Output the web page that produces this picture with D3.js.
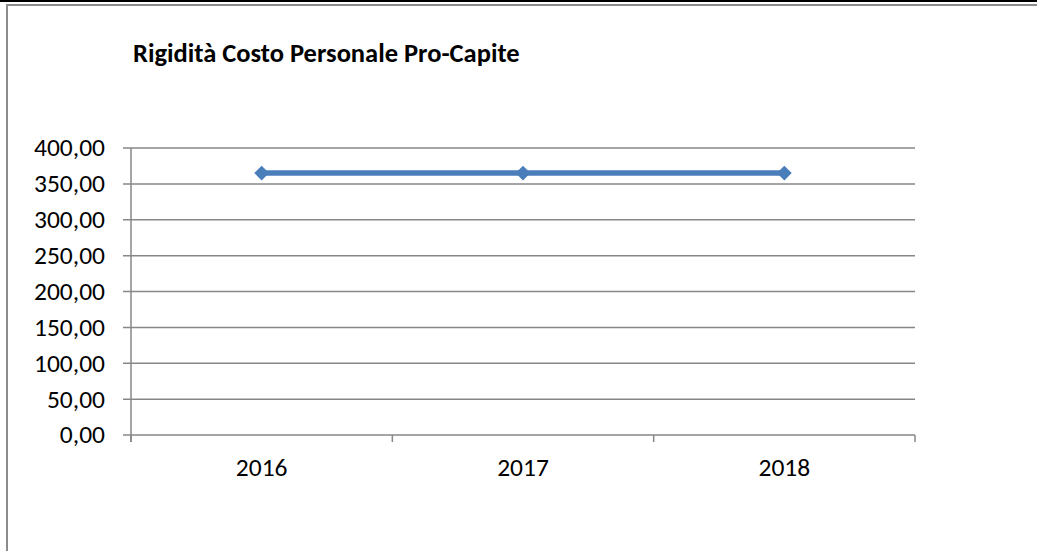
<!DOCTYPE html>
<html>
<head>
<meta charset="utf-8">
<script src="https://cdn.jsdelivr.net/npm/d3@7"></script>
<style>
  body { margin: 0; background: #fff; }
  svg text { font-family: Carlito, "Open Sans", "Noto Sans", sans-serif; fill: #000; }
</style>
</head>
<body>
<svg id="chart" width="1037" height="551"></svg>
<script>
// dati
var anni = ['2016', '2017', '2018'];
var valori = [365, 365, 365];
var tickY = [0, 50, 100, 150, 200, 250, 300, 350, 400];
var titolo = 'Rigidità Costo Personale Pro-Capite';

var svg = d3.select('#chart');
var margin = { left: 131, right: 1037 - 915, top: 148, bottom: 551 - 435 };
var w = 1037 - margin.left - margin.right;
var h = 551 - margin.top - margin.bottom;

// cornice
svg.append('line').attr('x1', 0).attr('x2', 1037).attr('y1', 1).attr('y2', 1)
  .attr('stroke', '#000').attr('stroke-width', 2);
svg.append('line').attr('x1', 6).attr('x2', 1037).attr('y1', 5).attr('y2', 5)
  .attr('stroke', '#8c8c8c').attr('stroke-width', 2);
svg.append('line').attr('x1', 7).attr('x2', 7).attr('y1', 4).attr('y2', 551)
  .attr('stroke', '#8c8c8c').attr('stroke-width', 2);

svg.append('text')
  .attr('x', 133).attr('y', 62)
  .style('font-weight', 'bold').style('font-size', '26.5px')
  .text(titolo);

var g = svg.append('g').attr('transform', 'translate(' + margin.left + ',' + margin.top + ')');

var x = d3.scaleBand().domain(anni).range([0, w]);
var y = d3.scaleLinear().domain([0, 400]).range([h, 0]);

// griglia
g.selectAll('.grid').data(tickY).enter().append('line')
  .attr('x1', -8).attr('x2', w)
  .attr('y1', function(d){ return y(d); }).attr('y2', function(d){ return y(d); })
  .attr('stroke', '#878787').attr('stroke-width', 1.5);

// asse y
g.append('line').attr('x1', 0).attr('x2', 0).attr('y1', 0).attr('y2', h + 7)
  .attr('stroke', '#878787').attr('stroke-width', 1.5);
var fmt = function(d){ return d3.format('.2f')(d).replace('.', ','); };
g.selectAll('.ylab').data(tickY).enter().append('text')
  .attr('x', -26).attr('y', function(d){ return y(d); })
  .attr('dy', '0.33em').attr('text-anchor', 'end')
  .style('font-size', '25.5px')
  .text(fmt);

// asse x
var xt = [0].concat(anni.map(function(a){ return x(a) + x.bandwidth(); }));
g.selectAll('.xtick').data(xt).enter().append('line')
  .attr('x1', function(d){ return d; }).attr('x2', function(d){ return d; })
  .attr('y1', h).attr('y2', h + 7)
  .attr('stroke', '#878787').attr('stroke-width', 1.5);
g.selectAll('.xlab').data(anni).enter().append('text')
  .attr('x', function(d){ return x(d) + x.bandwidth() / 2; })
  .attr('y', h + 41)
  .attr('text-anchor', 'middle')
  .style('font-size', '25.5px')
  .text(function(d){ return d; });

// serie
var line = d3.line()
  .x(function(d, i){ return x(anni[i]) + x.bandwidth() / 2; })
  .y(function(d){ return y(d); });
g.append('path').datum(valori)
  .attr('d', line).attr('fill', 'none')
  .attr('stroke', '#4a7ebb').attr('stroke-width', 5.5);
g.selectAll('.pt').data(valori).enter().append('path')
  .attr('d', d3.symbol().type(d3.symbolDiamond2).size(140))
  .attr('transform', function(d, i){ return 'translate(' + (x(anni[i]) + x.bandwidth() / 2) + ',' + y(d) + ')'; })
  .attr('fill', '#4a7ebb');
</script>
</body>
</html>
